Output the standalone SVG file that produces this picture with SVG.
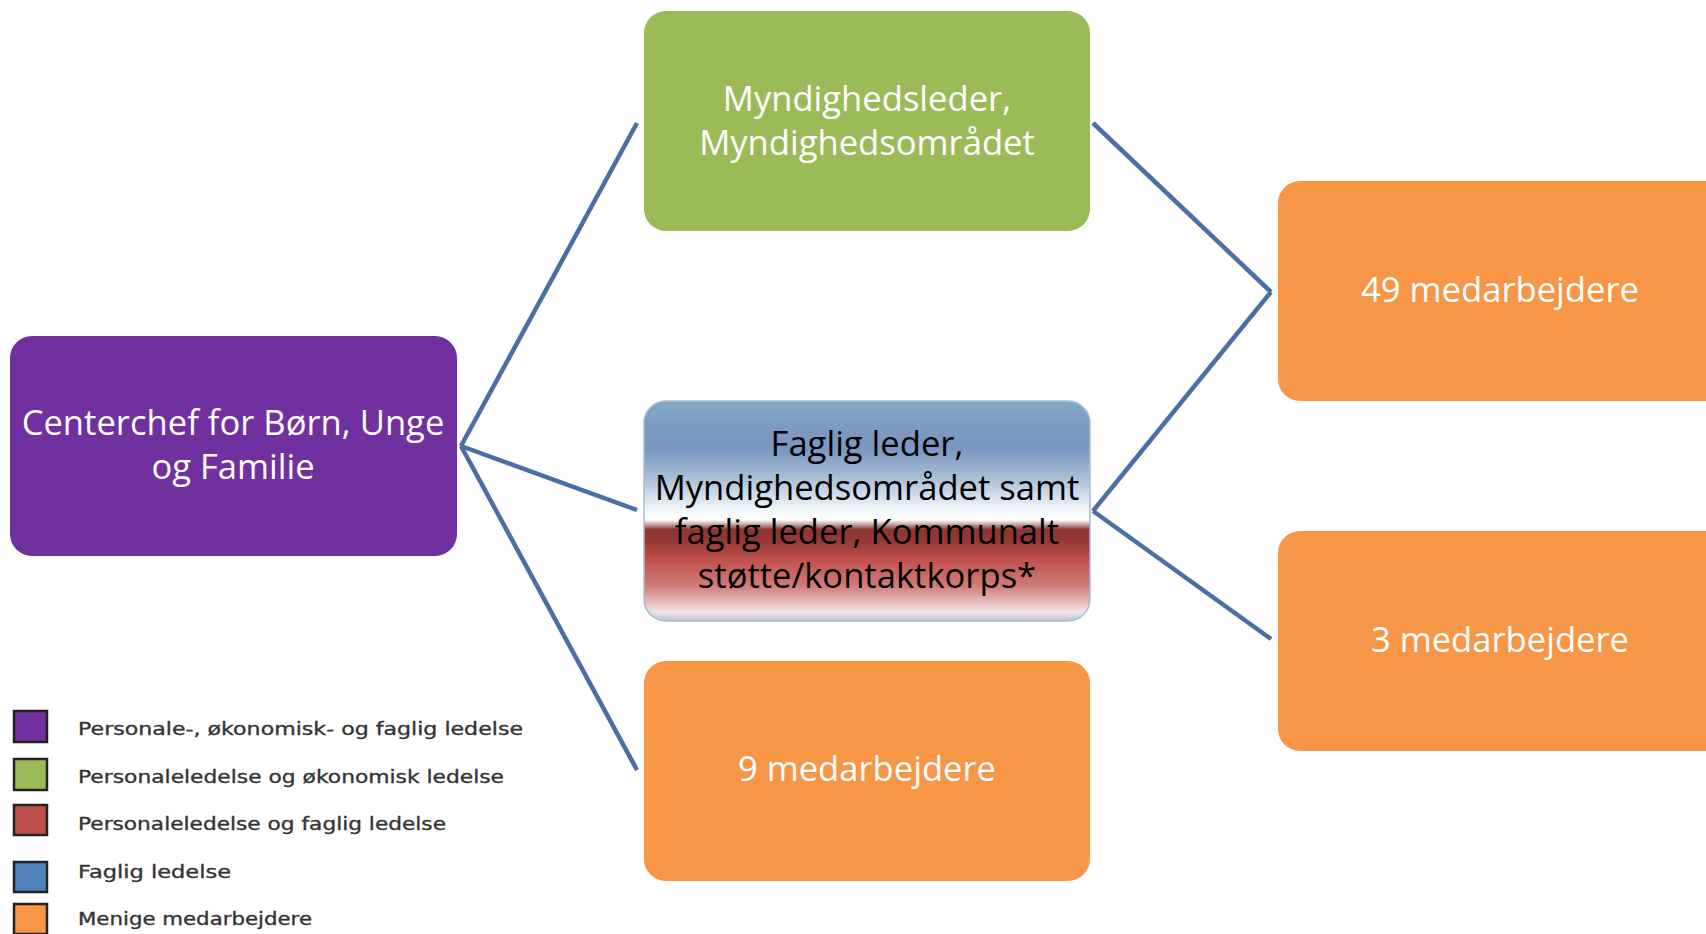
<svg xmlns="http://www.w3.org/2000/svg" width="1706" height="934" viewBox="0 0 1706 934">
<defs>
<linearGradient id="gBR" x1="0" y1="0" x2="0" y2="1">
<stop offset="0" stop-color="#84a9c6"/>
<stop offset="0.12" stop-color="#7d9ac2"/>
<stop offset="0.22" stop-color="#7b96c0"/>
<stop offset="0.35" stop-color="#a9bfd6"/>
<stop offset="0.5" stop-color="#f4f8fb"/>
<stop offset="0.54" stop-color="#ffffff"/>
<stop offset="0.56" stop-color="#c9a9a8"/>
<stop offset="0.585" stop-color="#8a3532"/>
<stop offset="0.64" stop-color="#973936"/>
<stop offset="0.72" stop-color="#c0504d"/>
<stop offset="0.84" stop-color="#d07c7a"/>
<stop offset="0.96" stop-color="#f1e4e4"/>
<stop offset="1" stop-color="#b8c6da"/>
</linearGradient>
</defs>
<style>
.box{stroke:none}
.t{font-family:"Open Sans","Noto Sans",sans-serif;font-size:34.6px;text-anchor:middle;fill:#ffffff}
.tb{fill:#000000}
.con{stroke:#4a6fa5;stroke-width:4.5;fill:none;stroke-linecap:butt}
.sw{stroke:#222222;stroke-width:2.5}
.lg{font-family:"DejaVu Sans",Verdana,sans-serif;font-size:18.5px;fill:#333333;stroke:#333333;stroke-width:0.35}
</style>
<rect width="1706" height="934" fill="#ffffff"/>

<g id="connectors">
<line class="con" x1="461" y1="446" x2="637" y2="123"/>
<line class="con" x1="461" y1="446" x2="637" y2="510"/>
<line class="con" x1="461" y1="446" x2="637" y2="770"/>
<line class="con" x1="1093" y1="123" x2="1271" y2="292"/>
<line class="con" x1="1093" y1="511" x2="1271" y2="292"/>
<line class="con" x1="1093" y1="511" x2="1271" y2="639"/>
</g>

<g id="node-centerchef">
<rect class="box" x="10" y="336" width="447" height="220" rx="22" fill="#7030a0"/>
<text class="t" x="233" y="435">Centerchef for Børn, Unge</text>
<text class="t" x="233" y="479">og Familie</text>
</g>

<g id="node-myndighedsleder">
<rect class="box" x="644" y="11" width="446" height="220" rx="22" fill="#9bbb59"/>
<text class="t" x="867" y="111">Myndighedsleder,</text>
<text class="t" x="867" y="155">Myndighedsområdet</text>
</g>

<g id="node-faglig">
<rect x="644" y="401" width="446" height="220" rx="22" fill="url(#gBR)" stroke="#a9bcd4" stroke-width="1.5"/>
<text class="t tb" x="867" y="456">Faglig leder,</text>
<text class="t tb" x="867" y="500">Myndighedsområdet samt</text>
<text class="t tb" x="867" y="544">faglig leder, Kommunalt</text>
<text class="t tb" x="867" y="588">støtte/kontaktkorps*</text>
</g>

<g id="node-9">
<rect class="box" x="644" y="661" width="446" height="220" rx="22" fill="#f79646"/>
<text class="t" x="867" y="781">9 medarbejdere</text>
</g>

<g id="node-49">
<rect class="box" x="1278" y="181" width="470" height="220" rx="22" fill="#f79646"/>
<text class="t" x="1500" y="302">49 medarbejdere</text>
</g>

<g id="node-3">
<rect class="box" x="1278" y="531" width="470" height="220" rx="22" fill="#f79646"/>
<text class="t" x="1500" y="652">3 medarbejdere</text>
</g>

<g id="legend">
<rect class="sw" x="14" y="711" width="33" height="31" fill="#7030a0"/>
<text class="lg" x="78" y="735" textLength="445" lengthAdjust="spacingAndGlyphs">Personale-, økonomisk- og faglig ledelse</text>
<rect class="sw" x="14" y="759" width="33" height="31" fill="#9bbb59"/>
<text class="lg" x="78" y="783" textLength="426" lengthAdjust="spacingAndGlyphs">Personaleledelse og økonomisk ledelse</text>
<rect class="sw" x="14" y="805" width="33" height="30" fill="#c0504d"/>
<text class="lg" x="78" y="830" textLength="368" lengthAdjust="spacingAndGlyphs">Personaleledelse og faglig ledelse</text>
<rect class="sw" x="14" y="862" width="33" height="30" fill="#4f81bd"/>
<text class="lg" x="78" y="878" textLength="153" lengthAdjust="spacingAndGlyphs">Faglig ledelse</text>
<rect class="sw" x="14" y="904" width="33" height="30" fill="#f79646"/>
<text class="lg" x="78" y="925" textLength="234" lengthAdjust="spacingAndGlyphs">Menige medarbejdere</text>
</g>
</svg>
